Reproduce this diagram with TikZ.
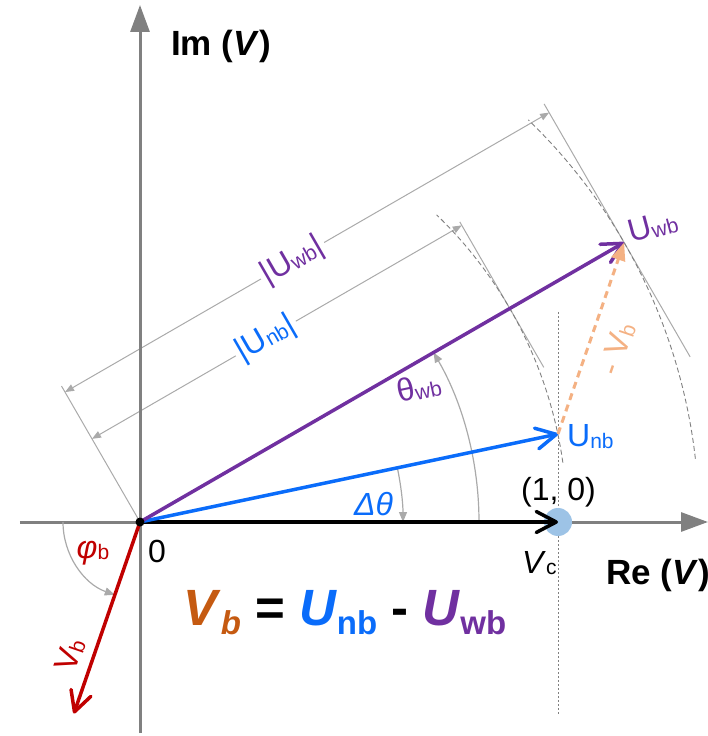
\documentclass[tikz,border=0pt]{standalone}
\usepackage{fontspec}
\setmainfont{Liberation Sans}
\usetikzlibrary{arrows.meta,calc}
\definecolor{cpurple}{RGB}{112,48,160}
\definecolor{cblue}{RGB}{10,108,250}
\definecolor{cred}{RGB}{192,0,0}
\definecolor{corange}{RGB}{244,177,131}
\definecolor{cbrown}{RGB}{197,90,17}
\definecolor{caxis}{RGB}{128,128,128}
\definecolor{cdim}{RGB}{170,170,170}
\definecolor{ccirc}{RGB}{157,195,230}
\newcommand\lsub[1]{\raisebox{-1.5pt}{\fontsize{21}{22}\selectfont #1}}
\newcommand\fsub[1]{\raisebox{-9.5pt}{\fontsize{33}{35}\selectfont\bfseries #1}}
\begin{document}
\begin{tikzpicture}[x=1pt,y=1pt,
  vec/.style={line width=3.5pt,line cap=round,-{Straight Barb[length=20pt,width=21pt,round]}},
  axis/.style={draw=caxis,line width=3pt,-{Triangle[length=27pt,width=19pt]}},
  dim/.style={draw=cdim,line width=1pt},
  dimarrow/.style={dim,{Triangle[length=9pt,width=7pt]}-{Triangle[length=9pt,width=7pt]}},
  angarc/.style={draw=cdim,line width=1.2pt,-{Triangle[length=10pt,width=8pt]}},
  guide/.style={draw=gray,line width=0.9pt,dash pattern=on 5pt off 3pt},
  lbl/.style={font=\fontsize{32}{36}\selectfont, inner sep=0pt},
  bold/.style={font=\fontsize{35}{40}\selectfont\bfseries, inner sep=0pt},
]
\useasboundingbox (-140,-214) rectangle (568,522);
% key points
\coordinate (O) at (0,0);
\coordinate (Vc) at (418,0);
\coordinate (Unb) at (418,88);
\coordinate (Uwb) at (30:559);
\coordinate (Vb) at ($(Unb)-(Uwb)$);
\coordinate (Pn) at (30:427);
% dimension helpers
\coordinate (D1a) at (120:150);
\coordinate (D1b) at ($(Uwb)+(120:150)$);
\coordinate (D2a) at (120:96);
\coordinate (D2b) at ($(Pn)+(120:96)$);
\coordinate (E0) at (120:157);
\coordinate (E1a) at ($(Uwb)+(120:160)$);
\coordinate (E1b) at ($(Uwb)+(-60:132)$);
\coordinate (E2a) at ($(Pn)+(120:100)$);
\coordinate (E2b) at ($(Pn)+(-60:68)$);
\coordinate (G1) at (418,210);
\coordinate (G2) at (418,-193);
\coordinate (X1) at (-120,0);
\coordinate (X2) at (568,0);
\coordinate (Y1) at (0,-211);
\coordinate (Y2) at (0,517);
% extension and dimension lines
\draw[dim] (O) -- (E0);
\draw[dim] (E1a) -- (E1b);
\draw[dim] (E2a) -- (E2b);
\draw[dimarrow] (D1a) -- node[lbl,fill=white,text=cpurple,sloped,inner sep=3pt,pos=0.47] {|U\lsub{wb}|} (D1b);
\draw[dimarrow] (D2a) -- node[lbl,fill=white,text=cblue,sloped,inner sep=3pt,pos=0.47] {|U\lsub{nb}|} (D2b);
% guide arcs
\draw[guide] (8:427) arc[start angle=8,end angle=46,radius=427];
\draw[guide] (6.5:559) arc[start angle=6.5,end angle=46,radius=559];
\draw[draw=gray,line width=0.9pt,dash pattern=on 2pt off 2pt] (G1) -- (G2);
% axes
\draw[axis] (X1) -- (X2);
\draw[axis] (Y1) -- (Y2);
\fill[ccirc] (Vc) circle (14);
% angle arcs
\draw[angarc] (339,0) arc[start angle=0,end angle=30,radius=339];
\draw[angarc] (11.9:263) arc[start angle=11.9,end angle=0,radius=263];
\draw[angarc] (-77,0) arc[start angle=180,end angle=250.9,radius=77];
% vectors
\draw[vec,black] (O) -- (Vc);
\draw[vec,cblue] (O) -- (Unb);
\draw[vec,cpurple] (O) -- (Uwb);
\draw[vec,cred] (O) -- (Vb);
\draw[corange,line width=3pt,dash pattern=on 7pt off 5pt,-{Triangle[length=18pt,width=14pt]}] (Unb) -- (Uwb);
\fill (O) circle (4.5);
% labels
\node[bold] (im) at (81,476) {Im (\textit{V})};
\node[bold,anchor=base west] (re) at (466,-62) {Re (\textit{V})};
\node[lbl,anchor=base west] (zero) at (8,-40) {0};
\node[lbl,anchor=base west] (one) at (381,22) {(1, 0)};
\node[lbl,anchor=base west] (vcl) at (382,-51) {\textit{V}\lsub{c}};
\node[lbl,text=cblue,anchor=base west] (unbl) at (427,75) {U\lsub{nb}};
\node[lbl,text=cpurple,anchor=base west,rotate=15] (uwbl) at (491,279) {U\lsub{wb}};
\node[lbl,text=cpurple,anchor=base west,rotate=12] (thl) at (259,119) {θ\lsub{wb}};
\node[lbl,text=cblue,anchor=base west] (dthl) at (214,7) {\textit{Δθ}};
\node[lbl,text=cred] (phl) at (-47,-31) {\textit{φ}\lsub{b}};
\node[lbl,text=cred,rotate=71] (vbl) at (-70,-133) {V\lsub{b}};
\node[lbl,text=corange,rotate=71] (mvbl) at (477,173) {- V\lsub{b}};
\node[anchor=base west,inner sep=0pt,font=\fontsize{51}{58}\selectfont\bfseries] (eq) at (43,-103)
  {\textcolor{cbrown}{\textit{V}\fsub{\textit{b}}} = \textcolor{cblue}{\textit{U}\fsub{nb}} - \textcolor{cpurple}{\textit{U}\fsub{wb}}};
\end{tikzpicture}
\end{document}
